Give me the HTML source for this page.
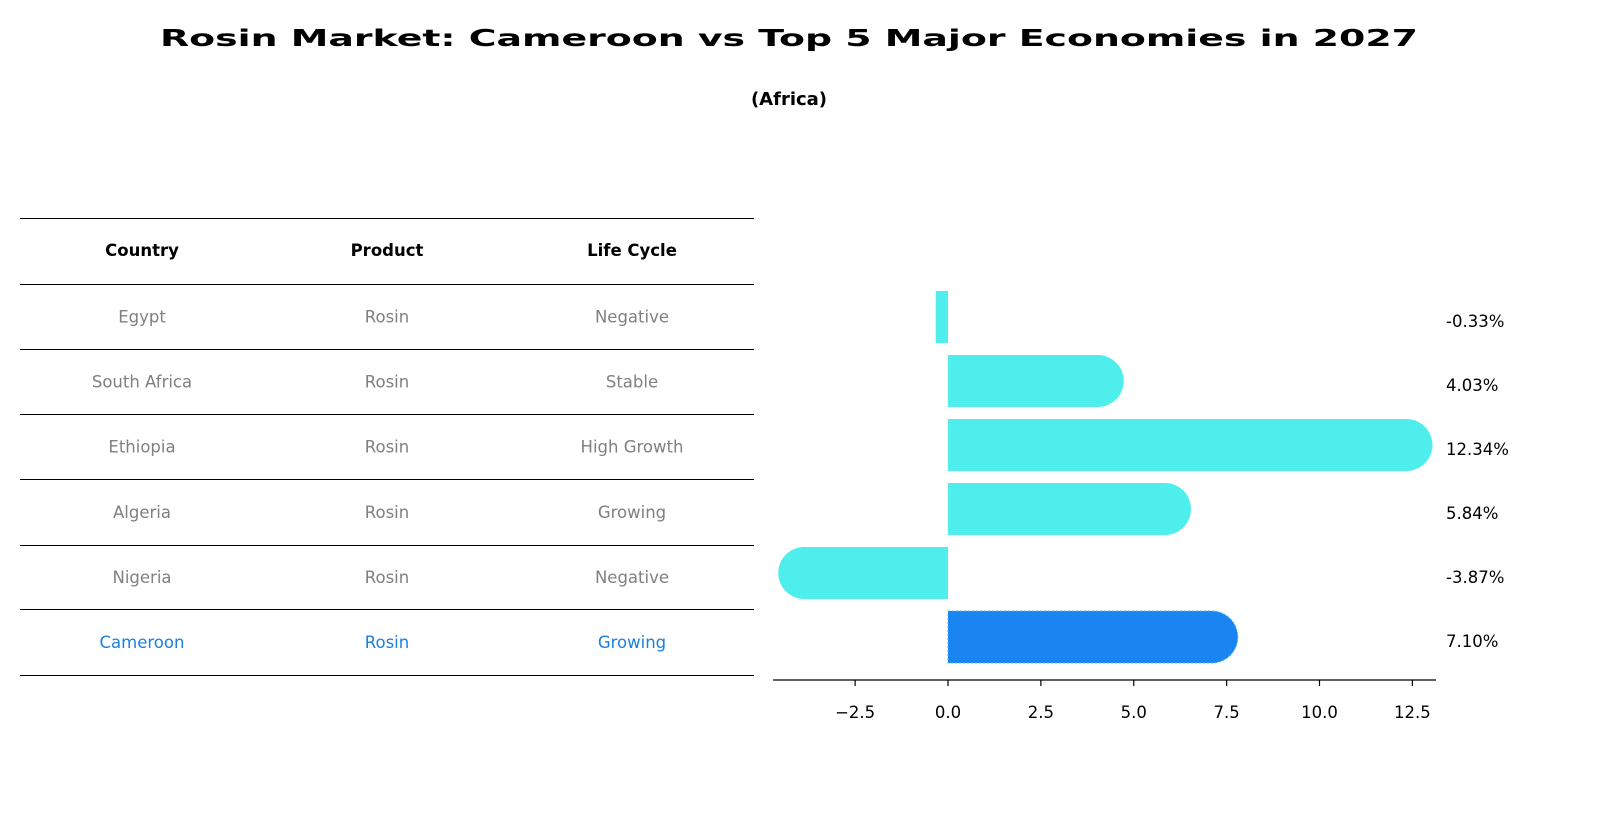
<!DOCTYPE html>
<html><head><meta charset="utf-8">
<style>
body{margin:0;background:#fff;font-family:"DejaVu Sans","Liberation Sans",sans-serif;}
#wrap{position:relative;width:1604px;height:823px;overflow:hidden;}
</style></head>
<body>
<div id="wrap">
<svg id="svg" width="1604" height="823" xmlns="http://www.w3.org/2000/svg" font-family="DejaVu Sans, Liberation Sans, sans-serif">
<text x="789" y="46" text-anchor="middle" font-size="23" font-weight="bold" textLength="1258" lengthAdjust="spacingAndGlyphs">Rosin Market: Cameroon vs Top 5 Major Economies in 2027</text>
<text x="789" y="105" text-anchor="middle" font-size="18" font-weight="bold">(Africa)</text>
<g id="table"></g>
<g id="bars"></g>
</svg>
</div>
<script>
const countries=["Egypt","South Africa","Ethiopia","Algeria","Nigeria","Cameroon"];
const products=["Rosin","Rosin","Rosin","Rosin","Rosin","Rosin"];
const lifeCycles=["Negative","Stable","High Growth","Growing","Negative","Growing"];
const values=[-0.33,4.03,12.34,5.84,-3.87,7.10];
const tickValues=[-2.5,0,2.5,5,7.5,10,12.5];
const tickLabels=["\u22122.5","0.0","2.5","5.0","7.5","10.0","12.5"];

const NS="http://www.w3.org/2000/svg";
function mk(tag,attrs,parent,text){const e=document.createElementNS(NS,tag);for(const k in attrs)e.setAttribute(k,attrs[k]);if(text!==undefined)e.textContent=text;parent.appendChild(e);return e;}
const table=document.getElementById('table');
const lineYs=[218,284,349,414,479,545,609,675];
lineYs.forEach((y,i)=>{const l=mk('line',{x1:20,x2:754,y1:y+0.5,y2:y+0.5,stroke:'#000','stroke-width':1},table);

});
const colX=[142,387,632];
["Country","Product","Life Cycle"].forEach((h,i)=>{const t=mk('text',{x:colX[i],y:256,'text-anchor':'middle','font-size':16.5,'font-weight':'bold'},table,h);

});
countries.forEach((c,r)=>{
 const y=(lineYs[r+1]+lineYs[r+2])/2+6;
 const col=r===countries.length-1?'#1a80e0':'#808080';
 [c,products[r],lifeCycles[r]].forEach((v,i)=>{const t=mk('text',{x:colX[i],y:y,'text-anchor':'middle','font-size':16.5,fill:col},table,v);
 
 });
});

const bars=document.getElementById('bars');
const x0=948, ppu=37.15;
const xs=v=>x0+v*ppu;
const rowY0=317, rowStep=64, bh=52, r=26;
values.forEach((v,i)=>{
 const cy=rowY0+i*rowStep, top=cy-bh/2, bot=cy+bh/2;
 const xe=xs(v);
 const hl=i===values.length-1;
 const fill=hl?'#1a85f0':'#4eeeec';
 let d;
 if(Math.abs(xe-x0)<r){d=`M${x0},${top}L${xe},${top}L${xe},${bot}L${x0},${bot}Z`;}
 else{const s=v>0?1:0;d=`M${x0},${top}L${xe},${top}A${r},${r} 0 0 ${s} ${xe},${bot}L${x0},${bot}Z`;}
 const p=mk('path',{d:d,fill:fill},bars);
 if(hl){p.setAttribute('stroke','#4ab0ff');p.setAttribute('stroke-dasharray','2,2');p.setAttribute('stroke-width','1');}
 
 
 const t=mk('text',{x:1446,y:cy+10,'font-size':16.5},bars,v.toFixed(2)+'%');
 
 
});
const ax=mk('line',{x1:773,x2:1436,y1:680,y2:680,stroke:'#000','stroke-width':1.3},bars);


tickValues.forEach((tv,i)=>{
 const x=xs(tv);
 const tk=mk('line',{x1:x,x2:x,y1:680,y2:686,stroke:'#000','stroke-width':1.2},bars);
 
 
 const t=mk('text',{x:x,y:718,'text-anchor':'middle','font-size':16.5},bars,tickLabels[i]);
 
 
});
</script>
</body></html>
